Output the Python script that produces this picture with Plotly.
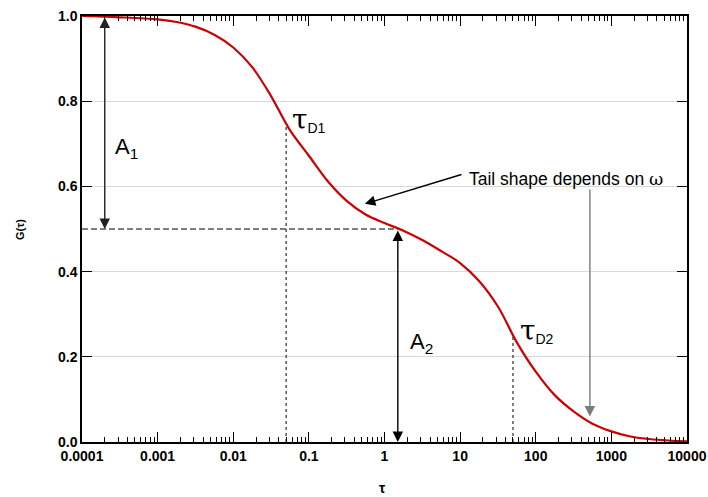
import math
import plotly.graph_objects as go

tau = [1e-4, 3.16e-4, 1e-3, 1.78e-3, 3.16e-3, 5.62e-3, 0.01, 0.0178, 0.0316, 0.0562,
       0.1, 0.178, 0.316, 0.562, 1.0, 1.78, 3.16, 5.62, 10, 17.8, 31.6, 56.2,
       100, 178, 316, 562, 1000, 1778, 3162, 5623, 10000]
G = [1.000, 0.997, 0.992, 0.986, 0.975, 0.956, 0.926, 0.880, 0.812, 0.732,
     0.672, 0.612, 0.566, 0.534, 0.514, 0.496, 0.474, 0.448, 0.420, 0.378, 0.318, 0.234,
     0.165, 0.110, 0.072, 0.043, 0.025, 0.013, 0.007, 0.0035, 0.0015]

x_ticks = [1e-4, 1e-3, 1e-2, 1e-1, 1, 10, 100, 1000, 10000]
x_ticklabels = ["0.0001", "0.001", "0.01", "0.1", "1", "10", "100", "1000", "10000"]

tau_D = [0.05, 50]            # characteristic times
G_at_tau_D = [0.744, 0.248]   # curve value at those times
A_level = 0.5                 # split between A1 and A2
tau_half = 1.5                # where the curve crosses A_level
tau_A1 = 0.0002               # position of A1 arrow
tau_tail_tip = 0.55
G_tail_tip = 0.559
tau_tail_text = 10.9
G_tail_text = 0.629
tau_vert = 520
G_vert_top = 0.596
G_vert_tip = 0.060

FONT = "Liberation Sans, Arial, sans-serif"

fig = go.Figure()

# dashed level line
fig.add_trace(go.Scatter(x=[x_ticks[0], tau_half], y=[A_level, A_level], mode="lines",
                         line=dict(color="black", width=1.1, dash="6px,3px"),
                         hoverinfo="skip", showlegend=False))
# dotted drop lines
for t, g in zip(tau_D, G_at_tau_D):
    fig.add_trace(go.Scatter(x=[t, t], y=[0, g], mode="lines",
                             line=dict(color="black", width=1, dash="dot"),
                             hoverinfo="skip", showlegend=False))

# main curve
fig.add_trace(go.Scatter(x=tau, y=G, mode="lines",
                         line=dict(color="#cc0000", width=2.2, shape="spline", smoothing=1.0),
                         showlegend=False))

L = math.log10
ann = []

def arrow(xt, yt, xa, ya, color="black", both=False):
    ann.append(dict(x=L(xt), y=yt, ax=L(xa), ay=ya, xref="x", yref="y", axref="x", ayref="y",
                    showarrow=True, arrowhead=2, arrowsize=1.5, arrowwidth=1.4,
                    arrowcolor=color, arrowside="end+start" if both else "end", text=""))

arrow(tau_A1, A_level, tau_A1, 1.0, color="#222222", both=True)
arrow(tau_half, 0.0, tau_half, A_level, color="black", both=True)
arrow(tau_tail_tip, G_tail_tip, tau_tail_text, G_tail_text, color="black")
arrow(tau_vert, G_vert_tip, tau_vert, G_vert_top, color="#7a7a7a")

def label(xv, yv, text, size=22, anchor="left"):
    ann.append(dict(x=L(xv), y=yv, xref="x", yref="y", text=text, showarrow=False,
                    xanchor=anchor, yanchor="middle", font=dict(family=FONT, size=size, color="black")))

label(2.55e-4, 0.69, "A<sub>1</sub>")
label(2.05, 0.233, "A<sub>2</sub>")
tau_txt = '<span style="font-family:DejaVu Serif;font-size:28px">τ</span><sub>D{}</sub>'
label(0.057, 0.756, tau_txt.format(1), size=20)
label(59, 0.262, tau_txt.format(2), size=20)
label(12.2, 0.618, 'Tail shape depends on <span style="font-family:DejaVu Serif">ω</span>', size=17.5)

# axis titles
ann.append(dict(xref="paper", yref="paper", x=-0.1025, y=0.50, text="G(τ)", textangle=-90,
                xanchor="center", yanchor="middle",
                showarrow=False, font=dict(family=FONT, size=11, color="black", weight="bold")))
ann.append(dict(xref="paper", yref="paper", x=0.497, y=-0.108, text="τ",
                xanchor="center", yanchor="middle",
                showarrow=False, font=dict(family=FONT, size=14, color="black", weight="bold")))

fig.update_layout(
    width=708, height=497,
    margin=dict(l=82, r=21, t=16, b=55, autoexpand=False),
    paper_bgcolor="white", plot_bgcolor="white",
    annotations=ann,
    xaxis=dict(type="log", range=[-4, 4], tickvals=x_ticks, ticktext=x_ticklabels,
               automargin=False,
               ticks="inside", ticklen=10, tickwidth=1.2, tickcolor="black",
               showline=True, linecolor="black", linewidth=1.5, mirror="allticks",
               showgrid=False, zeroline=False,
               tickfont=dict(family=FONT, size=14, color="black", weight="bold"),
               minor=dict(ticks="inside", ticklen=5, tickwidth=1, tickcolor="black",
                          dtick="D1", showgrid=False)),
    yaxis=dict(range=[0, 1], dtick=0.2, tick0=0, tickformat=".1f", automargin=False,
               ticks="inside", ticklen=10, tickwidth=1.2, tickcolor="black",
               showline=True, linecolor="black", linewidth=1.5, mirror="allticks",
               showgrid=True, gridcolor="#dadada", gridwidth=1, zeroline=False,
               tickfont=dict(family=FONT, size=14, color="black", weight="bold")),
)

fig.write_html("out.html")
